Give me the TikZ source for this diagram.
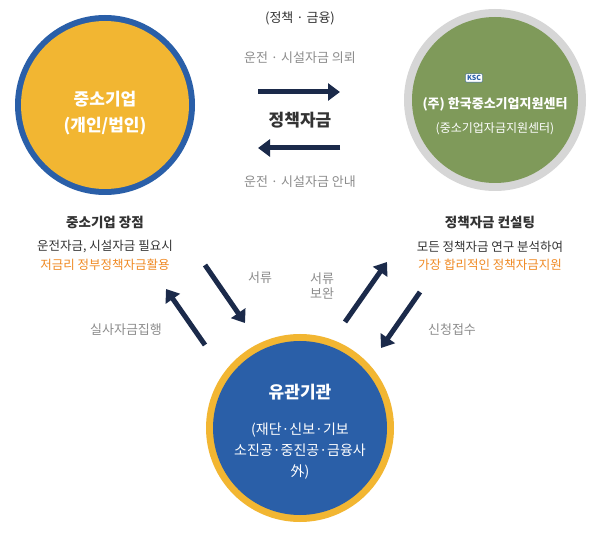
\documentclass[tikz,border=0pt]{standalone}
\usepackage{fontspec}
\setmainfont{Noto Sans CJK KR}
\usetikzlibrary{arrows.meta}
\definecolor{ringblue}{HTML}{2A5FA8}
\definecolor{sunorange}{HTML}{F2B632}
\definecolor{olivegreen}{HTML}{7F9A5A}
\definecolor{ringgrey}{HTML}{D6D6D6}
\definecolor{navyarrow}{HTML}{1B2A4A}
\definecolor{softgrey}{HTML}{8C8C8C}
\definecolor{darktext}{HTML}{333333}
\definecolor{accent}{HTML}{F08A24}
\tikzset{
    flow/.style={line width=5pt, navyarrow, -{Triangle[length=12pt, width=17pt]}}, % 굵은 화살표
    note/.style={font=\fontsize{13}{15}\selectfont, text=softgrey}, % 회색 설명
    head/.style={font=\bfseries\fontsize{13.5}{15}\selectfont, text=darktext},
    body/.style={font=\fontsize{12.5}{14}\selectfont, text=darktext},
    hot/.style={font=\fontsize{12.5}{14}\selectfont, text=accent}
}
\begin{document}
\begin{tikzpicture}[x=1pt, y=-1pt]
    \useasboundingbox[fill=white] (0,0) rectangle (600,537);

    % 세 개의 원
    \fill[ringblue] (105,105) circle (90);
    \fill[sunorange] (105,105) circle (84);
    \fill[ringgrey] (495,100) circle (91);
    \fill[olivegreen] (495,100) circle (83);
    \fill[sunorange] (300,428) circle (94);
    \fill[ringblue] (300,428) circle (87);

    \node[text=white, font=\bfseries\fontsize{17}{26}\selectfont, align=center] (company) at (105,113) {중소기업\\(개인/법인)};
    \node[draw=ringblue, fill=white, rounded corners=1pt, font=\bfseries\fontsize{7}{7}\selectfont, text=ringblue, inner sep=1.5pt] (logo) at (474,78) {KSC};
    \node[text=white, font=\bfseries\fontsize{13}{15}\selectfont] (center) at (495,104) {(주) 한국중소기업지원센터};
    \node[text=white, font=\fontsize{12}{14}\selectfont] (centersub) at (495,129) {(중소기업자금지원센터)};
    \node[text=white, font=\bfseries\fontsize{17}{19}\selectfont] (agency) at (300,392) {유관기관};
    \node[text=white, font=\fontsize{14}{21}\selectfont, align=center] (agencysub) at (300,451) {(재단·신보·기보\\소진공·중진공·금융사\\外)};

    % 위쪽 흐름
    \node[font=\fontsize{13}{15}\selectfont, text=darktext] (policy) at (300,18) {(정책 · 금융)};
    \node[note] (request) at (300,58) {운전 · 시설자금 의뢰};
    \node[font=\bfseries\fontsize{17}{19}\selectfont, text=darktext] (fund) at (300,120) {정책자금};
    \node[note] (guide) at (300,182) {운전 · 시설자금 안내};
    \coordinate (r1) at (258,92); \coordinate (r2) at (340,92);
    \coordinate (l1) at (340,148); \coordinate (l2) at (258,148);
    \draw[flow] (r1) -- (r2);
    \draw[flow] (l1) -- (l2);

    % 양쪽 설명
    \node[head] (merit) at (105,222) {중소기업 장점};
    \node[body] (merit1) at (105,247) {운전자금, 시설자금 필요시};
    \node[hot] (merit2) at (105,265) {저금리 정부정책자금활용};
    \node[head] (consult) at (490,222) {정책자금 컨설팅};
    \node[body] (consult1) at (490,247) {모든 정책자금 연구 분석하여};
    \node[hot] (consult2) at (490,265) {가장 합리적인 정책자금지원};

    % 대각선 화살표
    \coordinate (a1) at (205,345); \coordinate (a2) at (166,289);
    \coordinate (b1) at (205,265); \coordinate (b2) at (245,323);
    \coordinate (c1) at (345,322); \coordinate (c2) at (387,262);
    \coordinate (d1) at (420,292); \coordinate (d2) at (381,348);
    \draw[flow] (a1) -- (a2);
    \draw[flow] (b1) -- (b2);
    \draw[flow] (c1) -- (c2);
    \draw[flow] (d1) -- (d2);
    \node[note] (docs) at (260,278) {서류};
    \node[note] (exec) at (126,330) {실사자금집행};
    \node[note, align=center] (supp) at (322,286) {서류\\보완};
    \node[note] (apply) at (452,330) {신청접수};
\end{tikzpicture}
\end{document}
